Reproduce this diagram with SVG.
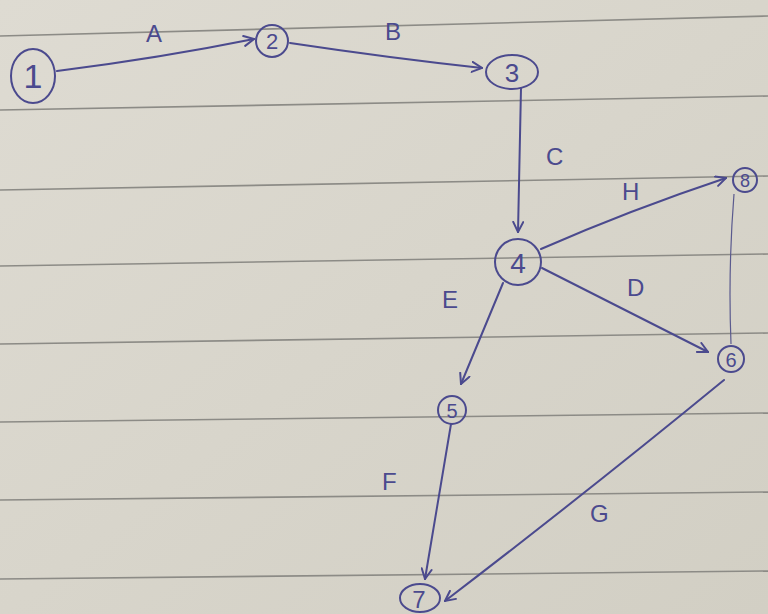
<svg xmlns="http://www.w3.org/2000/svg" width="768" height="614" viewBox="0 0 768 614">
<style>
.ink{stroke:#4b4a8e;stroke-width:2;fill:none;stroke-linecap:round}
.thin{stroke:#5a5a8e;stroke-width:1.2;fill:none}
.rule{stroke:#8c8b86;stroke-width:1.6}
.lbl{font-family:"Liberation Sans",sans-serif;font-size:24px;fill:#4b4a8e}
.num{font-family:"Liberation Sans",sans-serif;font-size:22px;fill:#4b4a8e;text-anchor:middle;dominant-baseline:central}
</style>
<defs>
<linearGradient id="paper" x1="0" y1="0" x2="1" y2="1">
<stop offset="0" stop-color="#dedbd2"/>
<stop offset="1" stop-color="#d2cfc4"/>
</linearGradient>
<marker id="arr" viewBox="0 0 12 12" refX="11" refY="6" markerWidth="12" markerHeight="12" markerUnits="userSpaceOnUse" orient="auto">
<path d="M1,1 L11,6 L1,11" stroke="#4b4a8e" stroke-width="2" fill="none" stroke-linecap="round"/>
</marker>
</defs>
<rect width="768" height="614" fill="url(#paper)"/>
<g id="rules">
<line class="rule" x1="0" y1="36" x2="768" y2="16"/>
<line class="rule" x1="0" y1="110" x2="768" y2="96"/>
<line class="rule" x1="0" y1="190" x2="768" y2="176"/>
<line class="rule" x1="0" y1="266" x2="768" y2="254"/>
<line class="rule" x1="0" y1="344" x2="768" y2="333"/>
<line class="rule" x1="0" y1="422" x2="768" y2="413"/>
<line class="rule" x1="0" y1="500" x2="768" y2="492"/>
<line class="rule" x1="0" y1="579" x2="768" y2="571"/>
</g>
<g id="connectors">
<path class="ink" d="M57,71 Q160,58 254,39" marker-end="url(#arr)"/>
<path class="ink" d="M290,43 Q390,58 482,68" marker-end="url(#arr)"/>
<path class="ink" d="M521,88 L518,232" marker-end="url(#arr)"/>
<path class="ink" d="M541,249 Q630,210 726,178" marker-end="url(#arr)"/>
<path class="ink" d="M542,268 L708,352" marker-end="url(#arr)"/>
<path class="ink" d="M503,283 L461,384" marker-end="url(#arr)"/>
<path class="ink" d="M451,424 L425,579" marker-end="url(#arr)"/>
<path class="ink" d="M724,380 Q590,490 445,601" marker-end="url(#arr)"/>
<path class="thin" d="M731,344 Q728,270 734,194"/>
<text class="lbl" x="146" y="42">A</text>
<text class="lbl" x="385" y="40">B</text>
<text class="lbl" x="546" y="165">C</text>
<text class="lbl" x="622" y="200">H</text>
<text class="lbl" x="627" y="296">D</text>
<text class="lbl" x="442" y="308">E</text>
<text class="lbl" x="382" y="490">F</text>
<text class="lbl" x="590" y="522">G</text>
</g>
<g id="n1"><ellipse class="ink" cx="33" cy="76" rx="22" ry="27"/><text class="num" x="33" y="76" style="font-size:34px">1</text></g>
<g id="n2"><circle class="ink" cx="272" cy="41" r="16"/><text class="num" x="272" y="41">2</text></g>
<g id="n3"><ellipse class="ink" cx="512" cy="72" rx="26" ry="17"/><text class="num" x="512" y="73" style="font-size:26px">3</text></g>
<g id="n4"><circle class="ink" cx="518" cy="262" r="23"/><text class="num" x="518" y="263" style="font-size:28px">4</text></g>
<g id="n8"><circle class="ink" cx="745" cy="180" r="12"/><text class="num" x="745" y="181" style="font-size:18px">8</text></g>
<g id="n5"><circle class="ink" cx="452" cy="410" r="14"/><text class="num" x="452" y="411" style="font-size:20px">5</text></g>
<g id="n6"><circle class="ink" cx="731" cy="359" r="13"/><text class="num" x="731" y="360" style="font-size:20px">6</text></g>
<g id="n7"><ellipse class="ink" cx="420" cy="598" rx="20" ry="14"/><text class="num" x="419" y="599" style="font-size:24px">7</text></g>
</svg>
